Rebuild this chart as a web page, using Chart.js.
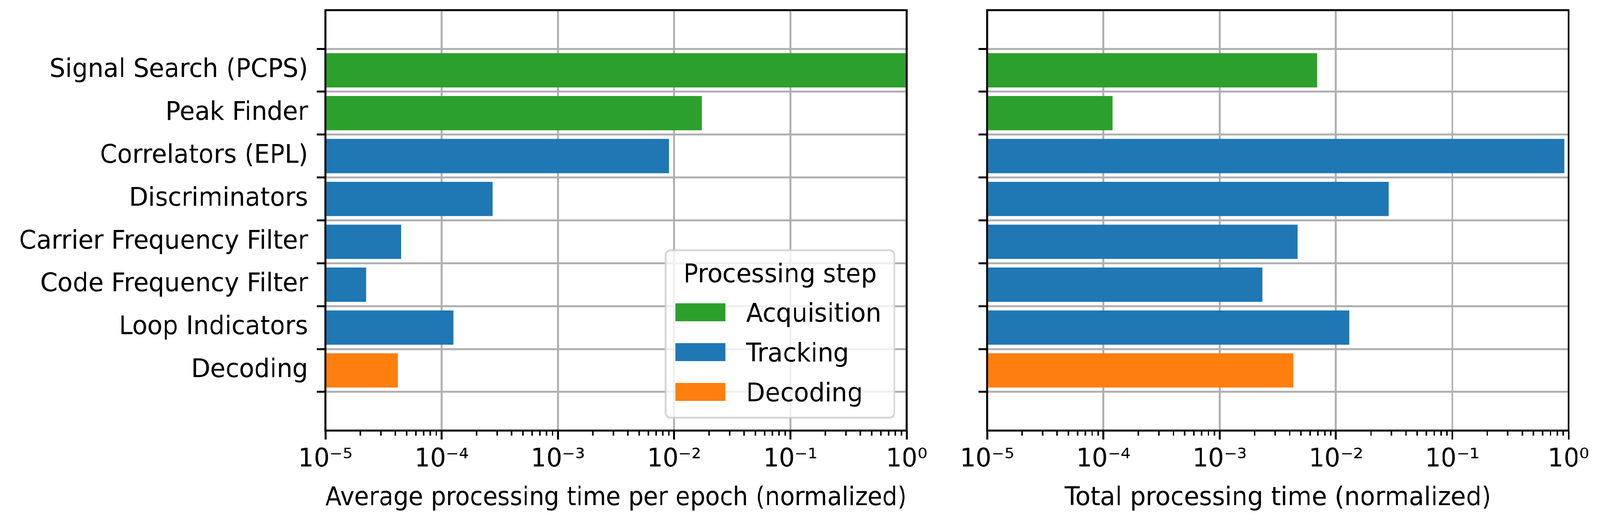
<!DOCTYPE html>
<html>
<head>
<meta charset="utf-8">
<script src="https://cdn.jsdelivr.net/npm/chart.js@4/dist/chart.umd.min.js"></script>
<style>
  html, body { margin: 0; padding: 0; background: #fff; overflow: hidden; }
  #stage { position: absolute; left: 0; top: 0; width: 4274px; height: 1350px; transform-origin: 0 0; }
  canvas { position: absolute; top: 0; }
  #left { left: 0; }
  #right { left: 2530px; }
</style>
</head>
<body>
<div id="stage">
<canvas id="left" width="2530" height="1350"></canvas>
<canvas id="right" width="1744" height="1350"></canvas>
</div>
<script>
const steps = ["Signal Search (PCPS)", "Peak Finder", "Correlators (EPL)", "Discriminators",
  "Carrier Frequency Filter", "Code Frequency Filter", "Loop Indicators", "Decoding"];
const stepGroup = ["Acquisition", "Acquisition", "Tracking", "Tracking",
  "Tracking", "Tracking", "Tracking", "Decoding"];
const groups = ["Acquisition", "Tracking", "Decoding"];
const groupColors = ["#2ca02c", "#1f77b4", "#ff7f0e"];

// normalized timings
const avgPerEpoch = [1.0, 0.0173, 0.0090, 2.75e-4, 4.5e-5, 2.25e-5, 1.26e-4, 4.2e-5];
const totalTime = [6.9e-3, 1.2e-4, 0.92, 0.0283, 4.66e-3, 2.32e-3, 0.013, 4.3e-3];

const xTicks = [1e-5, 1e-4, 1e-3, 1e-2, 1e-1, 1];
const xTickLabels = ["10⁻⁵", "10⁻⁴", "10⁻³", "10⁻²", "10⁻¹", "10⁰"];

// the layout is built for 4274x1350; squeeze it into the real viewport if that differs
const stage = document.getElementById("stage");
const fx = window.innerWidth / 4274, fy = window.innerHeight / 1350;
if (Math.abs(fx - 1) > 0.002 || Math.abs(fy - 1) > 0.002) {
  stage.style.transform = "scale(" + fx + "," + fy + ")";
}

Chart.defaults.font.family = "'DejaVu Sans'";
Chart.defaults.font.size = 66;
Chart.defaults.color = "#000";

const FONT = "66px 'DejaVu Sans'";
const GRID = "#b0b0b0";
const LW = 5;

function isMajor(v) {
  return xTicks.some(t => Math.abs(t - v) / t < 1e-9);
}

// major decades plus 2..9 minor ticks
function allXTicks() {
  const out = [];
  xTicks.forEach((t, i) => {
    out.push({ value: t });
    if (i < xTicks.length - 1) {
      for (let m = 2; m <= 9; m++) out.push({ value: m * t });
    }
  });
  return out;
}

function groupData(values, g) {
  const pts = [];
  steps.forEach((s, i) => {
    if (stepGroup[i] === g) pts.push({ x: values[i], y: i });
  });
  return pts;
}

const frame = {
  id: "frame",
  afterDatasetsDraw(chart) {
    const { ctx, chartArea: a } = chart;
    ctx.save();
    ctx.strokeStyle = "#000";
    ctx.lineWidth = LW;
    ctx.strokeRect(a.left, a.top, a.right - a.left, a.bottom - a.top);
    ctx.restore();
  },
  afterDraw(chart) {
    const { ctx, chartArea: a } = chart;
    const sx = chart.scales.x;
    ctx.save();
    ctx.strokeStyle = "#000";
    ctx.lineWidth = 4;
    sx.ticks.forEach(t => {
      if (isMajor(t.value)) return;
      const px = sx.getPixelForValue(t.value);
      ctx.beginPath();
      ctx.moveTo(px, a.bottom);
      ctx.lineTo(px, a.bottom + 13);
      ctx.stroke();
    });
    ctx.restore();
  }
};

const stepLegend = {
  id: "stepLegend",
  afterDraw(chart) {
    const { ctx, chartArea: a } = chart;
    const w = 611, h = 429;
    const x = a.right - 33 - w, y = a.bottom - 33 - h;
    ctx.save();
    ctx.beginPath();
    ctx.roundRect(x, y, w, h, 13);
    ctx.fillStyle = "rgba(255,255,255,0.8)";
    ctx.fill();
    ctx.lineWidth = 5;
    ctx.strokeStyle = "rgba(204,204,204,0.8)";
    ctx.stroke();
    ctx.font = FONT;
    ctx.fillStyle = "#000";
    ctx.textAlign = "center";
    ctx.textBaseline = "alphabetic";
    ctx.fillText("Processing step", x + w / 2, y + 82);
    ctx.textAlign = "left";
    chart.data.datasets.forEach((ds, i) => {
      const cy = y + 159 + i * 102;
      ctx.fillStyle = ds.backgroundColor;
      ctx.fillRect(x + 26, cy - 23, 134, 46);
      ctx.fillStyle = "#000";
      ctx.fillText(ds.label, x + 215, cy + 24);
    });
    ctx.restore();
  }
};

function makeChart(id, values, xTitle, showLabels, yWidth, padRight, withLegend) {
  return new Chart(document.getElementById(id), {
    type: "bar",
    data: {
      datasets: groups.map((g, k) => ({
        label: g,
        data: groupData(values, g),
        backgroundColor: groupColors[k],
        borderWidth: 0,
        grouped: false,
        barPercentage: 0.8,
        categoryPercentage: 1.0
      }))
    },
    options: {
      indexAxis: "y",
      responsive: false,
      animation: false,
      devicePixelRatio: 1,
      layout: { padding: { left: 0, right: padRight, top: 26, bottom: 0 } },
      plugins: {
        legend: { display: false },
        tooltip: { enabled: false }
      },
      scales: {
        x: {
          type: "logarithmic",
          min: 1e-5,
          max: 1,
          afterBuildTicks: s => { s.ticks = allXTicks(); },
          afterFit: s => { s.height = 247; s.paddingLeft = 0; s.paddingRight = 0; },
          grid: {
            color: c => (c.tick && isMajor(c.tick.value)) ? GRID : "rgba(0,0,0,0)",
            tickColor: c => (c.tick && isMajor(c.tick.value)) ? "#000" : "rgba(0,0,0,0)",
            lineWidth: LW,
            tickWidth: LW,
            tickLength: 23
          },
          border: { display: false },
          ticks: {
            autoSkip: false,
            maxRotation: 0,
            minRotation: 0,
            padding: 12,
            callback: v => {
              const i = xTicks.findIndex(t => Math.abs(t - v) / t < 1e-9);
              return i >= 0 ? xTickLabels[i] : "";
            }
          },
          title: {
            display: true,
            text: xTitle,
            padding: { top: 0, bottom: 34 }
          }
        },
        y: {
          type: "linear",
          reverse: true,
          min: -0.79,
          max: 7.79,
          afterBuildTicks: s => { s.ticks = steps.map((c, i) => ({ value: i })); },
          afterFit: s => { s.width = yWidth; s.paddingTop = 0; s.paddingBottom = 0; },
          grid: {
            color: GRID,
            lineWidth: LW,
            tickColor: "#000",
            tickWidth: LW,
            tickLength: 23
          },
          border: { display: false },
          ticks: {
            padding: 23,
            callback: v => showLabels ? steps[v] : ""
          }
        }
      }
    },
    plugins: withLegend ? [frame, stepLegend] : [frame]
  });
}

makeChart("left", avgPerEpoch, "Average processing time per epoch (normalized)", true, 869, 108, true);
makeChart("right", totalTime, "Total processing time (normalized)", false, 107, 84, false);
</script>
</body>
</html>
